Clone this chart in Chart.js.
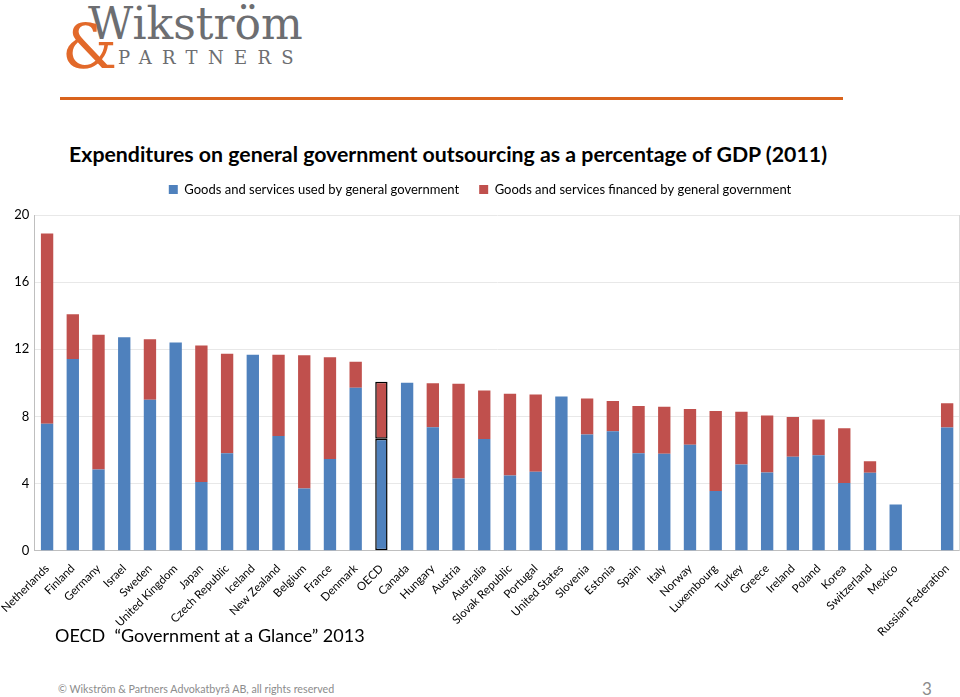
<!DOCTYPE html>
<html>
<head>
<meta charset="utf-8">
<script src="https://cdn.jsdelivr.net/npm/chart.js@4.4.1/dist/chart.umd.min.js"></script>
<style>
  html, body { margin: 0; padding: 0; background: #fff; width: 960px; height: 697px; overflow: hidden; position: relative; }
  .logo { position: absolute; left: 62px; top: 0; font-family: "DejaVu Serif", "Liberation Serif", serif; }
  .logo .amp { position: absolute; left: 0; top: 10px; font-size: 62px; color: #e2692a; }
  .logo .name { position: absolute; left: 26px; top: -2px; font-size: 44px; color: #6d6e71; }
  .logo .partners { position: absolute; left: 56px; top: 47px; font-size: 18px; color: #6d6e71; letter-spacing: 10.3px; }
  .rule { position: absolute; left: 60px; top: 97px; width: 783px; height: 3px; background: #d9631c; }
  .title { position: absolute; left: 0; top: 141px; width: 896px; text-align: center; font-family: Lato, "Noto Sans", sans-serif; font-weight: bold; font-size: 21.3px; color: #000; }
  .source { position: absolute; left: 55px; top: 624px; font-family: Lato, "Noto Sans", sans-serif; font-size: 18px; color: #000; }
  .footer { position: absolute; left: 58px; top: 682px; font-family: Lato, "Noto Sans", sans-serif; font-size: 10.7px; color: #8c8c8c; }
  .page { position: absolute; left: 922px; top: 678px; font-family: Lato, "Noto Sans", sans-serif; font-size: 17px; color: #8c8c8c; }
  #wrap { position: absolute; left: 0; top: 163px; width: 960px; height: 479px; }
</style>
</head>
<body>
<div class="logo">
  <span class="name">Wikström</span>
  <span class="amp">&amp;</span>
  <span class="partners">PARTNERS</span>
</div>
<div class="rule"></div>
<div class="title">Expenditures on general government outsourcing as a percentage of GDP (2011)</div>
<div id="wrap"><canvas id="chart"></canvas></div>
<div class="source">OECD &nbsp;“Government at a Glance” 2013</div>
<div class="footer">© Wikström &amp; Partners Advokatbyrå AB, all rights reserved</div>
<div class="page">3</div>

<script>
const countries = ['Netherlands', 'Finland', 'Germany', 'Israel', 'Sweden', 'United Kingdom', 'Japan',
  'Czech Republic', 'Iceland', 'New Zealand', 'Belgium', 'France', 'Denmark', 'OECD', 'Canada',
  'Hungary', 'Austria', 'Australia', 'Slovak Republic', 'Portugal', 'United States', 'Slovenia',
  'Estonia', 'Spain', 'Italy', 'Norway', 'Luxembourg', 'Turkey', 'Greece', 'Ireland', 'Poland',
  'Korea', 'Switzerland', 'Mexico', '', 'Russian Federation'];

// goods and services used by general government (% of GDP)
const usedValues = [7.56, 11.42, 4.84, 12.72, 9.0, 12.4, 4.1, 5.81, 11.68, 6.83, 3.7, 5.47, 9.71,
  6.67, 10.01, 7.36, 4.3, 6.65, 4.48, 4.7, 9.18, 6.93, 7.12, 5.81, 5.77, 6.31, 3.56, 5.13, 4.66,
  5.59, 5.69, 4.04, 4.64, 2.75, null, 7.34];

// total incl. goods and services financed by general government
const totalValues = [18.9, 14.09, 12.86, 12.72, 12.6, 12.4, 12.22, 11.74, 11.68, 11.68, 11.64, 11.52,
  11.26, 10.07, 10.01, 9.97, 9.95, 9.55, 9.35, 9.31, 9.18, 9.07, 8.92, 8.62, 8.58, 8.44, 8.32, 8.28,
  8.06, 7.96, 7.82, 7.3, 5.33, 2.75, null, 8.78];

const yTicks = [0, 4, 8, 12, 16, 20];

const financedValues = totalValues.map((t, i) => {
  if (t === null) return null;
  const d = +(t - usedValues[i]).toFixed(2);
  return d > 0 ? d : null;
});

const highlight = countries.indexOf('OECD');
const edgeColor = countries.map((c, i) => i === highlight ? '#000000' : 'rgba(0,0,0,0)');
const edgeWidth = countries.map((c, i) => i === highlight ? 1.5 : 0);

// thin frame on right side of plot
const frame = {
  id: 'frame',
  beforeDatasetsDraw(chart) {
    const { ctx, chartArea } = chart;
    ctx.save();
    ctx.strokeStyle = '#d9d9d9';
    ctx.lineWidth = 1;
    ctx.beginPath();
    ctx.moveTo(chartArea.right - 0.5, chartArea.top);
    ctx.lineTo(chartArea.right - 0.5, chartArea.bottom);
    ctx.stroke();
    ctx.restore();
  }
};

// extra gap under the legend
const legendGap = {
  id: 'legendGap',
  beforeInit(chart) {
    const fit = chart.legend.fit;
    chart.legend.fit = function () {
      fit.bind(chart.legend)();
      this.height += 9;
    };
  }
};

const ctx = document.getElementById('chart').getContext('2d');
new Chart(ctx, {
  type: 'bar',
  data: {
    labels: countries,
    datasets: [
      {
        label: 'Goods and services used by general government',
        data: usedValues,
        backgroundColor: '#4f81bd',
        borderColor: edgeColor,
        borderWidth: edgeWidth,
        borderSkipped: false,
        categoryPercentage: 1,
        barPercentage: 0.48
      },
      {
        label: 'Goods and services financed by general government',
        data: financedValues,
        backgroundColor: '#c0504d',
        borderColor: edgeColor,
        borderWidth: edgeWidth,
        borderSkipped: false,
        categoryPercentage: 1,
        barPercentage: 0.48
      }
    ]
  },
  options: {
    responsive: true,
    maintainAspectRatio: false,
    animation: false,
    layout: { padding: 0 },
    plugins: {
      legend: {
        position: 'top',
        labels: {
          boxWidth: 9,
          boxHeight: 9,
          padding: 20,
          color: '#000',
          font: { family: 'Lato, "Noto Sans", sans-serif', size: 13 }
        }
      },
      tooltip: { enabled: false }
    },
    scales: {
      x: {
        stacked: true,
        grid: { display: false },
        border: { color: '#bfbfbf' },
        ticks: {
          autoSkip: false,
          maxRotation: 45,
          minRotation: 45,
          color: '#000',
          font: { family: 'Lato, "Noto Sans", sans-serif', size: 11.5 }
        }
      },
      y: {
        stacked: true,
        min: 0,
        max: 20,
        afterBuildTicks(axis) { axis.ticks = yTicks.map(v => ({ value: v })); },
        afterFit(axis) { axis.width = 33; },
        grid: { color: '#e8e8e8', drawTicks: false },
        border: { color: '#bfbfbf' },
        ticks: {
          padding: 5,
          color: '#000',
          font: { family: 'Lato, "Noto Sans", sans-serif', size: 13 }
        }
      }
    }
  },
  plugins: [frame, legendGap]
});
</script>
</body>
</html>
